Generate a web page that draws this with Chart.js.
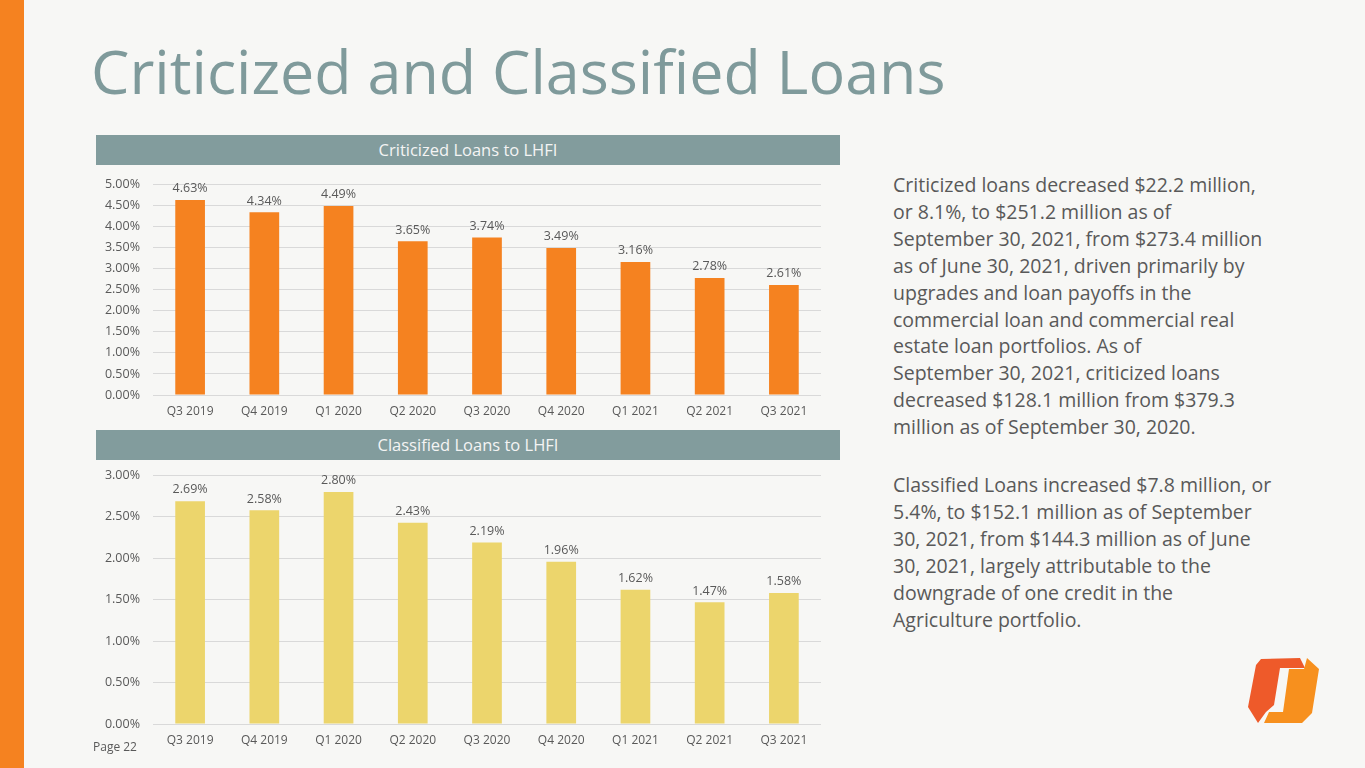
<!DOCTYPE html>
<html>
<head>
<meta charset="utf-8">
<script src="https://cdn.jsdelivr.net/npm/chart.js@4.4.1/dist/chart.umd.min.js"></script>
<style>
  html, body { margin: 0; padding: 0; }
  body { width: 1365px; height: 768px; position: relative; overflow: hidden; background: #f7f7f5; font-family: "Open Sans", sans-serif; }
  #sidebar { position: absolute; left: 0; top: 0; width: 24px; height: 768px; background: #f58220; }
  #title { position: absolute; left: 91px; top: 29px; font-size: 61px; color: #7f9a9b; white-space: nowrap; }
  .band { position: absolute; left: 96px; width: 744px; height: 30px; background: #829c9d; color: #f4f4f4; font-size: 16.5px; line-height: 30px; text-align: center; }
  .box { position: absolute; left: 96px; width: 740px; }
  #note { position: absolute; left: 893px; top: 172px; font-size: 19.5px; line-height: 26.9px; color: #595959; white-space: nowrap; }
  #note p { margin: 0 0 31px 0; }
  #page { position: absolute; left: 93px; top: 738px; font-size: 12px; color: #595959; }
  #logo { position: absolute; left: 1244px; top: 655px; }
</style>
</head>
<body>
<div id="sidebar"></div>
<div id="title">Criticized and Classified Loans</div>

<div class="band" style="top:135px">Criticized Loans to LHFI</div>
<div class="box" style="top:164px;height:256px"><canvas id="criticized"></canvas></div>

<div class="band" style="top:430px">Classified Loans to LHFI</div>
<div class="box" style="top:455px;height:297px"><canvas id="classified"></canvas></div>

<div id="note">
  <p>Criticized loans decreased $22.2 million,<br>or 8.1%, to $251.2 million as of<br>September 30, 2021, from $273.4 million<br>as of June 30, 2021, driven primarily by<br>upgrades and loan payoffs in the<br>commercial loan and commercial real<br>estate loan portfolios. As of<br>September 30, 2021, criticized loans<br>decreased $128.1 million from $379.3<br>million as of September 30, 2020.</p>
  <p>Classified Loans increased $7.8 million, or<br>5.4%, to $152.1 million as of September<br>30, 2021, from $144.3 million as of June<br>30, 2021, largely attributable to the<br>downgrade of one credit in the<br>Agriculture portfolio.</p>
</div>

<div id="page">Page 22</div>

<svg id="logo" width="80" height="72" viewBox="0 0 80 72">
  <polygon points="17,4 56,3 61,13 36,13 30,50 22,57 14,68 4,52 12,10" fill="#ee5a2a"/>
  <polygon points="63,3 75,14 68,58 58,68 20,68 25,57 39,57 45,14 60,14" fill="#f7901e"/>
</svg>

<script>
const quarters = ["Q3 2019", "Q4 2019", "Q1 2020", "Q2 2020", "Q3 2020", "Q4 2020", "Q1 2021", "Q2 2021", "Q3 2021"];
const criticizedPct = [4.63, 4.34, 4.49, 3.65, 3.74, 3.49, 3.16, 2.78, 2.61];
const classifiedPct = [2.69, 2.58, 2.80, 2.43, 2.19, 1.96, 1.62, 1.47, 1.58];

const textGray = "#595959";
const gridGray = "#d9d9d9";

// draws the value above every bar
const barLabels = {
    id: "barLabels",
    afterDatasetsDraw(chart) {
        const ctx = chart.ctx;
        ctx.save();
        ctx.font = "12.5px 'Open Sans'";
        ctx.fillStyle = textGray;
        ctx.textAlign = "center";
        ctx.textBaseline = "bottom";
        chart.getDatasetMeta(0).data.forEach((bar, i) => {
            var v = chart.data.datasets[0].data[i];
            ctx.fillText(v.toFixed(2) + "%", bar.x, bar.y - 5);
        });
        ctx.restore();
    }
};

function makeChart(id, values, color, max, xHeight) {
    return new Chart(document.getElementById(id), {
        type: "bar",
        data: {
            labels: quarters,
            datasets: [{
                data: values,
                backgroundColor: color,
                borderWidth: 0,
                categoryPercentage: 1,
                barPercentage: 0.4
            }]
        },
        options: {
            responsive: true,
            maintainAspectRatio: false,
            animation: false,
            layout: { padding: { left: 0, right: 15, top: 5, bottom: 0 } },
            plugins: { legend: { display: false }, tooltip: { enabled: false } },
            scales: {
                x: {
                    grid: { display: false, drawTicks: false },
                    border: { display: false },
                    ticks: { color: textGray, font: { size: 12, family: "Open Sans" }, padding: 9, maxRotation: 0 },
                    afterFit: (s) => { s.height = xHeight; }
                },
                y: {
                    min: 0,
                    max: max,
                    grid: { color: gridGray, drawTicks: false },
                    border: { display: false },
                    ticks: {
                        stepSize: 0.5,
                        color: textGray,
                        padding: 13,
                        font: { size: 12.5, family: "Open Sans" },
                        callback: (v) => v.toFixed(2) + "%"
                    },
                    afterFit: (s) => { s.width = 57; }
                }
            }
        },
        plugins: [barLabels]
    });
}

makeChart("criticized", criticizedPct, "#f58220", 5, 25);
makeChart("classified", classifiedPct, "#ecd56c", 3, 28);
</script>
</body>
</html>
